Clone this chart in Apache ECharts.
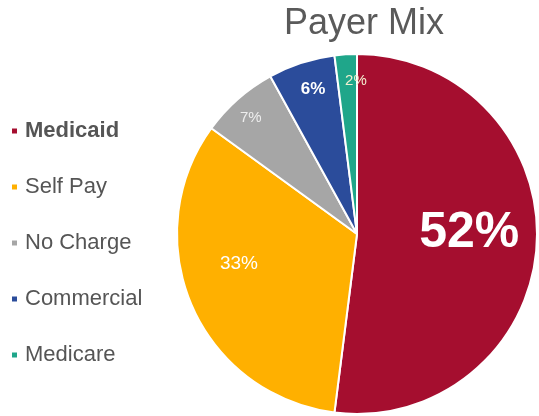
<!DOCTYPE html>
<html>
<head>
<meta charset="utf-8">
<script src="https://cdn.jsdelivr.net/npm/echarts@6/dist/echarts.min.js"></script>
<style>
html,body{margin:0;padding:0;background:#fff;}
#main{width:539px;height:416px;}
</style>
</head>
<body>
<div id="main"></div>
<script>
const categories = ['Medicaid', 'Self Pay', 'No Charge', 'Commercial', 'Medicare'];
const values = [52, 33, 7, 6, 2];
const colors = ['#A50E2F', '#FFB000', '#A6A6A6', '#2B4C9B', '#1FA68A'];

// label styling per slice (style only)
const labelStyles = [
  { fontSize: 50, fontWeight: 'bold', color: '#ffffff', radial: 1.23, shift: [-2, -8] },
  { fontSize: 19, fontWeight: 'normal', color: '#ffffff', radial: 1.36, shift: [-2, -20] },
  { fontSize: 15, fontWeight: 'normal', color: '#eeeeee', radial: 1.76, shift: [2, 7] },
  { fontSize: 17, fontWeight: 'bold', color: '#ffffff', radial: 1.70, shift: [5, 6] },
  { fontSize: 15, fontWeight: 'normal', color: '#f3efd0', radial: 1.72, shift: [9, 7] }
];

const CX = 357, CY = 234, R = 180;
const chart = echarts.init(document.getElementById('main'));

const data = categories.map((name, i) => ({
  name: name,
  value: values[i],
  itemStyle: { color: colors[i] },
  label: {
    fontSize: labelStyles[i].fontSize,
    fontWeight: labelStyles[i].fontWeight,
    color: labelStyles[i].color
  }
}));

chart.setOption({
  animation: false,
  title: {
    text: 'Payer Mix',
    left: CX + 2,
    textAlign: 'center',
    top: 1,
    textStyle: { fontFamily: 'Liberation Sans, Arial, sans-serif', fontSize: 36, fontWeight: 'normal', color: '#5a5a5a' }
  },
  legend: {
    orient: 'vertical',
    left: 5,
    top: 115,
    itemWidth: 7,
    itemHeight: 7,
    itemGap: 34,
    icon: 'rect',
    data: categories,
    formatter: function (name) { return name === 'Medicaid' ? '{b|' + name + '}' : '{n|' + name + '}'; },
    textStyle: {
      fontFamily: 'Liberation Sans, Arial, sans-serif',
      fontSize: 22,
      color: '#555555',
      padding: [0, 0, 0, 2],
      rich: {
        b: { fontFamily: 'Liberation Sans, Arial, sans-serif', fontSize: 22, fontWeight: 'bold', color: '#555555' },
        n: { fontFamily: 'Liberation Sans, Arial, sans-serif', fontSize: 22, color: '#555555' }
      }
    }
  },
  series: [{
    type: 'pie',
    center: [CX, CY],
    radius: [0, R],
    startAngle: 90,
    clockwise: true,
    data: data,
    itemStyle: { borderColor: '#ffffff', borderWidth: 2 },
    label: {
      show: true,
      position: 'inside',
      fontFamily: 'Liberation Sans, Arial, sans-serif',
      formatter: '{c}%'
    },
    labelLine: { show: false },
    labelLayout: function (p) {
      const r = p.labelRect;
      const lx = r.x + r.width / 2, ly = r.y + r.height / 2;
      const s = labelStyles[p.dataIndex];
      return { dx: (lx - CX) * (s.radial - 1) + s.shift[0], dy: (ly - CY) * (s.radial - 1) + s.shift[1] };
    },
    emphasis: { disabled: true }
  }]
});
</script>
</body>
</html>
